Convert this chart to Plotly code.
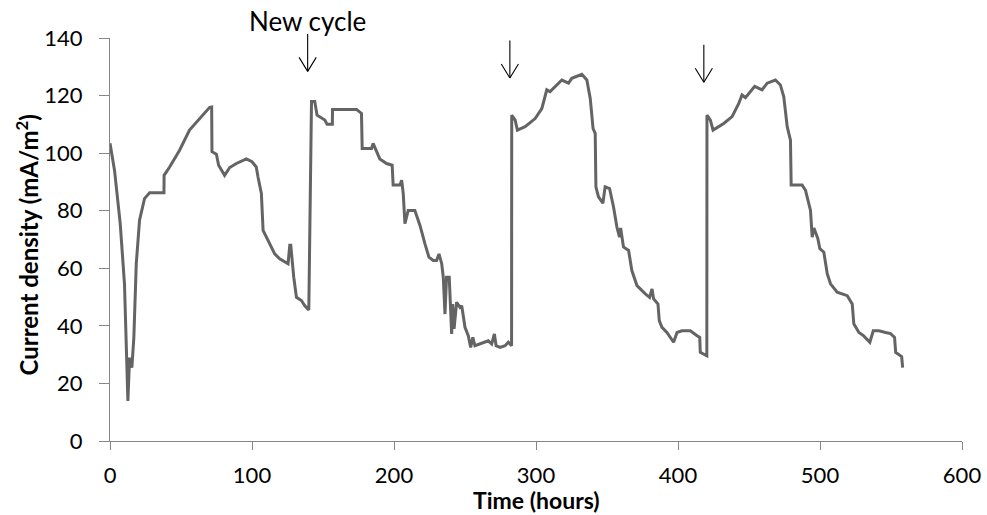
import plotly.graph_objects as go

# Time (hours) and current density (mA/m^2)
time_h = [0, 3.2, 7.2, 10.2, 12.6, 13.8, 15.4, 16.8, 18.5, 20.8, 24.3, 27.9, 38.0, 38.1,
          42, 49, 56, 63, 70.2, 71.6, 71.8, 74.9, 76.5, 80.7, 84.3, 89, 96, 100, 103,
          104.2, 106.6, 107.8, 112.5, 116, 119.5, 125.4, 126.6, 127.3, 129.4, 131.3,
          134.8, 137.2, 140, 141.9, 144.2, 145.8, 151.3, 152.9, 156.6, 156.7, 173.6,
          177.1, 177.6, 184.2, 185.3, 190, 194.8, 198.7, 199.4, 204.2, 205.4, 206.5,
          207.7, 210, 214.7, 218.3, 221.8, 224.6, 227.6, 230, 231.7, 233.6, 234.7,
          235.9, 237, 238.9, 240.6, 241.3, 242.3, 244.1, 246.5, 247.7, 250, 252.3,
          254, 255.5, 257, 260.6, 266.4, 268.8, 270.7, 271.9, 274.7, 278.2, 280.5,
          282.8, 282.9, 285.3, 286.9, 292.3, 299.4, 304.1, 307.6, 309.9, 312.3, 318.2,
          322.9, 325.2, 332.3, 335.8, 338.2, 340.2, 341.7, 342.2, 344, 347.1, 348.7,
          351.8, 354.6, 357, 358.8, 359.6, 361.6, 365.2, 367.5, 371.1, 377, 380,
          381.7, 382.8, 385.9, 386.8, 388.7, 392.2, 396.9, 399.3, 402.8, 408.7,
          413.4, 415.3, 415.7, 420.3, 420.4, 422.8, 424.7, 432.2, 438.1, 442.8,
          445.1, 447.5, 454.0, 459.2, 462.8, 468.6, 472.1, 474.5, 476.9, 479.2,
          479.7, 487.4, 489.8, 493.3, 494.5, 495.7, 498.5, 499.9, 502.7, 505.1,
          507.4, 512.1, 519.2, 522.7, 523.8, 527.4, 530.6, 535.1, 537.5, 541.5,
          546.2, 549.7, 552.5, 553.3, 557.5, 558.2]
current = [103.4, 94, 75.5, 54.6, 13.9, 29, 25.5, 36, 61.6, 76.7, 84.2, 86.2, 86.2, 92.3,
           95.2, 101, 108, 112, 115.9, 116, 100.5, 99.6, 95.8, 92.3, 95, 96.4, 98, 97, 95.2,
           91.8, 86, 73.2, 68.5, 65, 63.3, 61.6, 68, 68, 56.9, 49.9,
           48.8, 47, 45.5, 117.9, 117.9, 113.2, 111.5, 110, 110, 115.2, 115.2,
           113.8, 101.6, 101.6, 103.4, 98, 96.4, 95.8, 88.9, 88.9, 90.6, 86,
           75.5, 80.1, 80.1, 74.9, 68.5, 63.9, 62.7, 62.7, 65, 61.6, 56.9,
           44.1, 56.9, 56.9, 37.2, 47.6, 39, 48.2, 46.4, 47, 39.5, 36.6,
           32.5, 36, 33.1, 33.7, 34.8, 33.7, 37.2, 33.1, 32.5, 33.1, 34.3,
           33.1, 113.2, 111.5, 108, 109.2, 112, 115.5, 122, 121.4, 122.5, 125.4,
           124.3, 126, 127.4, 125.4, 119, 108.5, 106.9, 88.3, 84.8, 82.6, 88.3,
           87.7, 81.3, 74.3, 70.8, 74, 67.4, 66.2, 59.2, 54, 51.1, 49.9,
           52.8, 49.4, 47.6, 41.8, 39.5, 37.7, 34.3, 37.7, 38.3, 38.3,
           36.6, 36, 30.8, 29.6, 113.2, 111.5, 108, 110.3, 112.7, 117.3,
           120.2, 119.3, 123.2, 122, 124.3, 125.4, 123.7, 119.6, 109.2, 104.5,
           88.9, 88.9, 87.1, 80.1, 70.8, 74, 70.3, 66.8, 65.6, 58.1,
           54.6, 51.7, 50.5, 47.6, 40.7, 37.7, 36.6, 34.3, 38.3, 38.3,
           37.7, 37.3, 36, 30.8, 29.3, 25.5]

# New-cycle arrows: x position (hours) and tip value (mA/m^2)
arrow_x = [139.2, 281.6, 418.2]
arrow_tip = [128.4, 126.1, 124.6]
arrow_label = "New cycle"

x_ticks = [0, 100, 200, 300, 400, 500, 600]
y_ticks = [0, 20, 40, 60, 80, 100, 120, 140]
x_title = "<b>Time (hours)</b>"
y_title = "<b>Current density (mA/m<sup>2</sup>)</b>"

FONT = "Lato"
AXIS_GRAY = "#868686"

fig = go.Figure()
fig.add_trace(go.Scatter(x=time_h, y=current, mode="lines",
                         line=dict(color="#646464", width=3), showlegend=False,
                         hoverinfo="skip"))

annotations = []
for ax_, tip in zip(arrow_x, arrow_tip):
    # shaft
    annotations.append(dict(x=ax_, y=tip, xref="x", yref="y", text="", showarrow=True,
                            arrowhead=0, arrowwidth=1.1, arrowcolor="black",
                            ax=0, ay=-39, standoff=0, startstandoff=0))
    # open V head
    for dx in (-9.5, 9.5):
        annotations.append(dict(x=ax_, y=tip, xref="x", yref="y", text="", showarrow=True,
                                arrowhead=0, arrowwidth=1.1, arrowcolor="black",
                                ax=dx, ay=-15.5, standoff=0, startstandoff=0))

annotations.append(dict(x=arrow_x[0], y=1, xref="x", yref="paper", text=arrow_label,
                        showarrow=False, yanchor="middle", yshift=17,
                        font=dict(family=FONT, size=26, color="black")))
annotations.append(dict(x=0.5, y=0, xref="paper", yref="paper", text=x_title,
                        showarrow=False, yanchor="middle", yshift=-59,
                        font=dict(family=FONT, size=23, color="black")))
annotations.append(dict(x=0, y=0.5, xref="paper", yref="paper", text=y_title,
                        showarrow=False, xanchor="center", xshift=-84, yshift=-6,
                        textangle=-90,
                        font=dict(family=FONT, size=24, color="black")))

fig.update_layout(
    width=987, height=515,
    margin=dict(l=110, r=25, t=38, b=74),
    paper_bgcolor="white", plot_bgcolor="white",
    font=dict(family=FONT, size=22, color="black"),
    annotations=annotations,
    xaxis=dict(range=[0, 600], tickvals=x_ticks, showgrid=False, zeroline=False,
               showline=True, linecolor=AXIS_GRAY, linewidth=1, automargin=False,
               ticks="outside", ticklen=8, tickcolor=AXIS_GRAY, ticklabelstandoff=7,
               ticklabeloverflow="allow"),
    yaxis=dict(range=[0, 140], tickvals=y_ticks, showgrid=False, zeroline=False,
               showline=True, linecolor=AXIS_GRAY, linewidth=1, automargin=False,
               ticks="outside", ticklen=10, tickcolor=AXIS_GRAY, ticklabelstandoff=12),
)

# remove the default 8px page margin so the figure fills the window exactly
fig.write_html("out.html", config={"displayModeBar": False},
               post_script="document.body.style.margin='0';")
